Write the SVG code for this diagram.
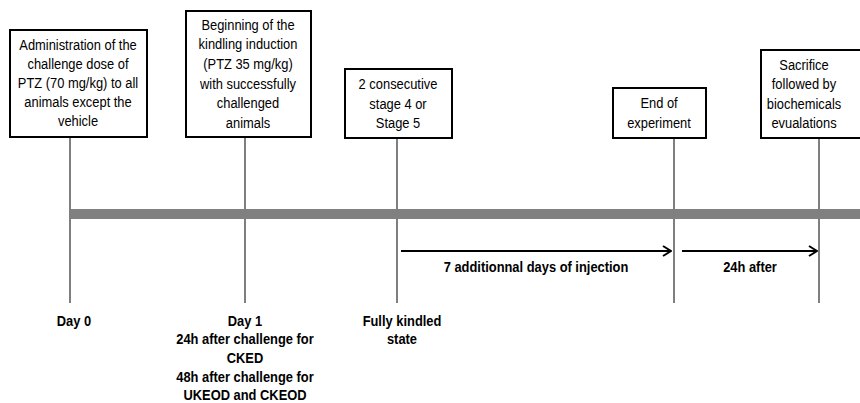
<svg xmlns="http://www.w3.org/2000/svg" width="860" height="403" viewBox="0 0 860 403">
<defs>
<style>
.box{fill:#fff;stroke:#000;stroke-width:2}
.t{font-family:"Liberation Sans",Arial,sans-serif;font-size:15px;fill:#000;text-anchor:middle}
.b{font-weight:bold}
.v{stroke:#7f7f7f;stroke-width:2;fill:none}
.arr{stroke:#000;stroke-width:2;fill:none;marker-end:url(#ah)}
</style>
<marker id="ah" markerWidth="10" markerHeight="12" refX="9" refY="6" orient="auto" markerUnits="userSpaceOnUse">
<path d="M1,1 L9,6 L1,11" fill="none" stroke="#000" stroke-width="2"/>
</marker>
</defs>
<rect width="860" height="403" fill="#fff"/>
<g id="connectors">
<rect x="70" y="209" width="790" height="10" fill="#808080"/>
<line class="v" x1="70" y1="137" x2="70" y2="303"/>
<line class="v" x1="245" y1="137" x2="245" y2="303"/>
<line class="v" x1="397" y1="138" x2="397" y2="303"/>
<line class="v" x1="674" y1="138" x2="674" y2="303"/>
<line class="v" x1="819" y1="138" x2="819" y2="303"/>
<line class="arr" x1="401" y1="251" x2="671" y2="251"/>
<line class="arr" x1="682" y1="251" x2="817" y2="251"/>
<g transform="translate(536 0) scale(0.86 1)"><text class="t b" x="0" y="272">7 additionnal days of injection</text></g>
<g transform="translate(750 0) scale(0.86 1)"><text class="t b" x="0" y="272">24h after</text></g>
</g>
<g id="node1">
<rect class="box" x="10" y="30" width="137" height="107"/>
<g transform="translate(78 0) scale(0.86 1)">
<text class="t" x="0" y="50">Administration of the</text>
<text class="t" x="0" y="69">challenge dose of</text>
<text class="t" x="0" y="88">PTZ (70 mg/kg) to all</text>
<text class="t" x="0" y="107">animals except the</text>
<text class="t" x="0" y="126">vehicle</text>
</g>
</g>
<g id="node2">
<rect class="box" x="186" y="11" width="125" height="126"/>
<g transform="translate(248 0) scale(0.86 1)">
<text class="t" x="0" y="30">Beginning of the</text>
<text class="t" x="0" y="49">kindling induction</text>
<text class="t" x="0" y="69">(PTZ 35 mg/kg)</text>
<text class="t" x="0" y="89">with successfully</text>
<text class="t" x="0" y="108">challenged</text>
<text class="t" x="0" y="128">animals</text>
</g>
</g>
<g id="node3">
<rect class="box" x="345" y="69" width="107" height="69"/>
<g transform="translate(398 0) scale(0.86 1)">
<text class="t" x="0" y="89">2 consecutive</text>
<text class="t" x="0" y="109">stage 4 or</text>
<text class="t" x="0" y="128">Stage 5</text>
</g>
</g>
<g id="node4">
<rect class="box" x="613" y="88" width="93" height="50"/>
<g transform="translate(659 0) scale(0.86 1)">
<text class="t" x="0" y="108">End of</text>
<text class="t" x="0" y="128">experiment</text>
</g>
</g>
<g id="node5">
<rect class="box" x="761" y="50" width="110" height="88"/>
<g transform="translate(804 0) scale(0.86 1)">
<text class="t" x="0" y="70">Sacrifice</text>
<text class="t" x="0" y="89">followed by</text>
<text class="t" x="0" y="109">biochemicals</text>
<text class="t" x="0" y="128">evualations</text>
</g>
</g>
<g id="label-day0"><g transform="translate(74 0) scale(0.86 1)"><text class="t b" x="0" y="326">Day 0</text></g></g>
<g id="label-day1">
<g transform="translate(245 0) scale(0.86 1)">
<text class="t b" x="0" y="326">Day 1</text>
<text class="t b" x="0" y="344">24h after challenge for</text>
<text class="t b" x="0" y="363">CKED</text>
<text class="t b" x="0" y="382">48h after challenge for</text>
<text class="t b" x="0" y="400">UKEOD and CKEOD</text>
</g>
</g>
<g id="label-kindled">
<g transform="translate(402 0) scale(0.86 1)">
<text class="t b" x="0" y="326">Fully kindled</text>
<text class="t b" x="0" y="344">state</text>
</g>
</g>
</svg>
